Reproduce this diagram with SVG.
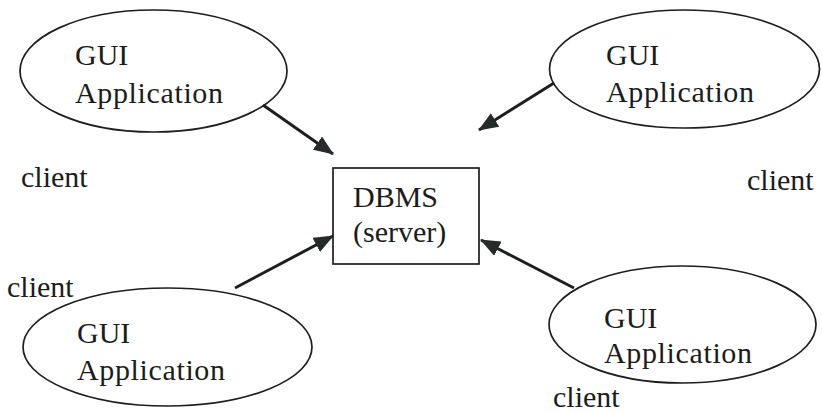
<svg xmlns="http://www.w3.org/2000/svg" width="822" height="413" viewBox="0 0 822 413">
  <defs>
    <marker id="arrow" viewBox="0 0 20 16" refX="19" refY="8" markerWidth="20" markerHeight="16" markerUnits="userSpaceOnUse" orient="auto">
      <path d="M0,0 L20,8 L0,16 z" fill="#252a2a"/>
    </marker>
    <style>
      .shape { fill: none; stroke: #1e1e1e; stroke-width: 1.7; }
      .lbl { font-family: 'Liberation Serif', 'DejaVu Serif', serif; font-size: 30px; fill: #1c1c1c; }
      .edge { stroke: #1e1e1e; stroke-width: 3; fill: none; marker-end: url(#arrow); }
    </style>
  </defs>
  <rect width="822" height="413" fill="#ffffff"/>

  <!-- client applications -->
  <g id="gui-top-left" font-family="Liberation Serif, DejaVu Serif, serif">
    <ellipse class="shape" cx="153.5" cy="71" rx="133.5" ry="61"/>
    <text class="lbl" x="75" y="65">GUI</text>
    <text class="lbl" x="75" y="103" textLength="148" lengthAdjust="spacing">Application</text>
  </g>
  <g id="gui-top-right" font-family="Liberation Serif, DejaVu Serif, serif">
    <ellipse class="shape" cx="684.5" cy="69" rx="135" ry="59"/>
    <text class="lbl" x="606" y="65">GUI</text>
    <text class="lbl" x="606" y="102" textLength="148" lengthAdjust="spacing">Application</text>
  </g>
  <g id="gui-bottom-left" font-family="Liberation Serif, DejaVu Serif, serif">
    <ellipse class="shape" cx="167.5" cy="347" rx="144.5" ry="59"/>
    <text class="lbl" x="77" y="343">GUI</text>
    <text class="lbl" x="77" y="380" textLength="148" lengthAdjust="spacing">Application</text>
  </g>
  <g id="gui-bottom-right" font-family="Liberation Serif, DejaVu Serif, serif">
    <ellipse class="shape" cx="682.5" cy="324.5" rx="133.5" ry="58.5"/>
    <text class="lbl" x="604" y="328">GUI</text>
    <text class="lbl" x="604" y="363" textLength="148" lengthAdjust="spacing">Application</text>
  </g>

  <!-- database server -->
  <g id="dbms-server" font-family="Liberation Serif, DejaVu Serif, serif">
    <rect class="shape" x="333" y="168" width="146" height="96"/>
    <text class="lbl" x="353" y="207">DBMS</text>
    <text class="lbl" x="353" y="242">(server)</text>
  </g>

  <!-- client captions -->
  <g id="captions" font-family="Liberation Serif, DejaVu Serif, serif">
    <text class="lbl" x="21" y="187">client</text>
    <text class="lbl" x="747" y="190">client</text>
    <text class="lbl" x="7" y="297">client</text>
    <text class="lbl" x="553" y="407">client</text>
  </g>

  <!-- connectors -->
  <g id="connectors">
    <line class="edge" x1="263" y1="105" x2="333" y2="154"/>
    <line class="edge" x1="554" y1="83" x2="479" y2="130"/>
    <line class="edge" x1="235" y1="288" x2="333" y2="236"/>
    <line class="edge" x1="574" y1="288" x2="481" y2="240"/>
  </g>
</svg>
